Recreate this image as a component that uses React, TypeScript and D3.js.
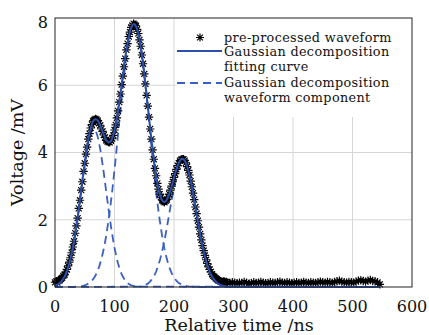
import React, { useRef, useEffect } from 'react'
import * as d3 from 'd3'

// axis ticks
const xTicks = [0, 100, 200, 300, 400, 500, 600]
const yTicks = [0, 2, 4, 6, 8]

const legendLabels = [
  ['pre-processed waveform'],
  ['Gaussian decomposition', 'fitting curve'],
  ['Gaussian decomposition', 'waveform component'],
]

// pre-processed waveform, sampled every 2 ns from 0 to 290 ns
const sampleStep = 2
const waveformPulse = [
  0.14, 0.17, 0.13, 0.19, 0.20, 0.24, 0.27, 0.33, 0.36, 0.45,
  0.52, 0.63, 0.74, 0.87, 1.02, 1.19, 1.36, 1.60, 1.82, 2.05,
  2.34, 2.58, 2.88, 3.13, 3.44, 3.68, 3.95, 4.16, 4.40, 4.56,
  4.73, 4.83, 4.94, 4.97, 5.00, 4.98, 4.95, 4.87, 4.81, 4.70,
  4.63, 4.52, 4.45, 4.36, 4.33, 4.31, 4.30, 4.35, 4.41, 4.51,
  4.67, 4.82, 5.03, 5.24, 5.50, 5.74, 6.02, 6.27, 6.55, 6.79,
  7.05, 7.24, 7.45, 7.58, 7.72, 7.78, 7.83, 7.80, 7.77, 7.66,
  7.54, 7.35, 7.16, 6.90, 6.64, 6.34, 6.04, 5.70, 5.38, 5.05,
  4.70, 4.40, 4.08, 3.80, 3.53, 3.31, 3.08, 2.91, 2.76, 2.67,
  2.58, 2.55, 2.52, 2.56, 2.60, 2.68, 2.76, 2.88, 3.00, 3.13,
  3.26, 3.37, 3.50, 3.61, 3.68, 3.76, 3.79, 3.80, 3.80, 3.76,
  3.69, 3.58, 3.47, 3.33, 3.15, 2.98, 2.79, 2.60, 2.38, 2.18,
  1.97, 1.78, 1.58, 1.40, 1.23, 1.08, 0.94, 0.81, 0.70, 0.60,
  0.52, 0.45, 0.38, 0.33, 0.30, 0.26, 0.23, 0.20, 0.19, 0.17,
  0.16, 0.15, 0.17, 0.14, 0.15, 0.13,
]

// flat tail of the waveform, every 4 ns from 294 ns
const tailStart = 294
const tailStep = 4
const waveformTail = [
  0.12, 0.14, 0.13, 0.11, 0.13, 0.12, 0.15, 0.13, 0.10, 0.12,
  0.14, 0.12, 0.13, 0.15, 0.13, 0.11, 0.12, 0.14, 0.13, 0.12,
  0.14, 0.16, 0.13, 0.12, 0.14, 0.13, 0.11, 0.13, 0.14, 0.12,
  0.13, 0.15, 0.13, 0.12, 0.14, 0.13, 0.12, 0.14, 0.16, 0.14,
  0.13, 0.15, 0.14, 0.12, 0.15, 0.17, 0.19, 0.16, 0.14, 0.13,
  0.15, 0.14, 0.13, 0.16, 0.19, 0.20, 0.18, 0.16, 0.19, 0.21,
  0.18, 0.17, 0.14, 0.08,
]

// Gaussian components, every 2 ns from their start time (zero elsewhere)
const component1Start = 0
const component1 = [
  0.04, 0.05, 0.07, 0.09, 0.12, 0.15, 0.20, 0.25, 0.31, 0.38,
  0.47, 0.58, 0.70, 0.84, 1.00, 1.17, 1.37, 1.58, 1.81, 2.06,
  2.31, 2.58, 2.85, 3.12, 3.39, 3.64, 3.88, 4.10, 4.29, 4.45,
  4.57, 4.65, 4.70, 4.70, 4.65, 4.57, 4.45, 4.29, 4.10, 3.88,
  3.64, 3.39, 3.12, 2.85, 2.58, 2.31, 2.06, 1.81, 1.58, 1.37,
  1.17, 1.00, 0.84, 0.70, 0.58, 0.47, 0.38, 0.31, 0.25, 0.20,
  0.15, 0.12, 0.09, 0.07, 0.05, 0.04, 0.03, 0.02, 0.01, 0.01,
  0.01,
]
const component2Start = 30
const component2 = [
  0.00, 0.00, 0.01, 0.01, 0.01, 0.01, 0.02, 0.02, 0.03, 0.04,
  0.05, 0.06, 0.08, 0.10, 0.12, 0.15, 0.19, 0.23, 0.28, 0.34,
  0.41, 0.50, 0.59, 0.71, 0.83, 0.98, 1.14, 1.32, 1.52, 1.75,
  1.99, 2.25, 2.53, 2.83, 3.15, 3.49, 3.83, 4.19, 4.55, 4.91,
  5.27, 5.63, 5.97, 6.30, 6.60, 6.88, 7.13, 7.35, 7.52, 7.66,
  7.75, 7.79, 7.79, 7.75, 7.66, 7.52, 7.35, 7.13, 6.88, 6.60,
  6.30, 5.97, 5.63, 5.27, 4.91, 4.55, 4.19, 3.83, 3.49, 3.15,
  2.83, 2.53, 2.25, 1.99, 1.75, 1.52, 1.32, 1.14, 0.98, 0.83,
  0.71, 0.59, 0.50, 0.41, 0.34, 0.28, 0.23, 0.19, 0.15, 0.12,
  0.10, 0.08, 0.06, 0.05, 0.04, 0.03, 0.02, 0.02, 0.01, 0.01,
  0.01, 0.01, 0.00, 0.00,
]
const component3Start = 140
const component3 = [
  0.01, 0.01, 0.02, 0.03, 0.04, 0.05, 0.06, 0.08, 0.10, 0.13,
  0.17, 0.21, 0.26, 0.31, 0.38, 0.46, 0.56, 0.66, 0.78, 0.91,
  1.06, 1.22, 1.39, 1.57, 1.77, 1.97, 2.17, 2.38, 2.58, 2.78,
  2.97, 3.15, 3.31, 3.45, 3.57, 3.65, 3.72, 3.75, 3.75, 3.72,
  3.65, 3.57, 3.45, 3.31, 3.15, 2.97, 2.78, 2.58, 2.38, 2.17,
  1.97, 1.77, 1.57, 1.39, 1.22, 1.06, 0.91, 0.78, 0.66, 0.56,
  0.46, 0.38, 0.31, 0.26, 0.21, 0.17, 0.13, 0.10, 0.08, 0.06,
  0.05, 0.04, 0.03, 0.02, 0.01, 0.01,
]
const timeEnd = 545

const components = [
  { start: component1Start, values: component1 },
  { start: component2Start, values: component2 },
  { start: component3Start, values: component3 },
]

export default function App() {
  const svgRef = useRef(null)

  useEffect(() => {
    const width = 429
    const height = 335
    const margin = { top: 18, right: 17, bottom: 48, left: 55 }
    const font = '"DejaVu Serif", serif'

    const svg = d3.select(svgRef.current)
    svg.selectAll('*').remove()
    svg.attr('width', width).attr('height', height).attr('viewBox', `0 0 ${width} ${height}`)

    const x = d3.scaleLinear().domain([0, 600]).range([margin.left, width - margin.right])
    const y = d3.scaleLinear().domain([0, 8]).range([height - margin.bottom, margin.top])

    svg.append('rect').attr('width', width).attr('height', height).attr('fill', '#fff')

    // grid
    const grid = svg.append('g').attr('stroke', '#d6d6d6').attr('stroke-width', 1)
    xTicks.slice(1, -1).forEach(t => {
      grid.append('line').attr('x1', x(t)).attr('x2', x(t)).attr('y1', y(0)).attr('y2', y(8))
    })
    yTicks.slice(1, -1).forEach(t => {
      grid.append('line').attr('x1', x(0)).attr('x2', x(600)).attr('y1', y(t)).attr('y2', y(t))
    })

    // legend background hides the grid behind it
    const legendBox = { x0: 176, y0: y(8), x1: x(600), y1: 117 }
    svg.append('rect')
      .attr('x', legendBox.x0).attr('y', legendBox.y0)
      .attr('width', legendBox.x1 - legendBox.x0).attr('height', legendBox.y1 - legendBox.y0)
      .attr('fill', '#fff')

    const compAt = (c, t) => {
      const i = Math.round((t - c.start) / sampleStep)
      return i >= 0 && i < c.values.length ? c.values[i] : 0
    }

    const line = d3.line().x(d => x(d[0])).y(d => y(d[1]))

    // dashed Gaussian components
    components.forEach(c => {
      const pts = c.values.map((v, i) => [c.start + i * sampleStep, v])
      if (c.start > 0) pts.unshift([0, 0])
      pts.push([timeEnd, 0])
      svg.append('path')
        .attr('d', line(pts))
        .attr('fill', 'none')
        .attr('stroke', '#3a60c2')
        .attr('stroke-width', 1.8)
        .attr('stroke-dasharray', '8,5')
    })

    // waveform asterisks
    const wave = [
      ...waveformPulse.map((v, i) => [i * sampleStep, v]),
      ...waveformTail.map((v, i) => [tailStart + i * tailStep, v]),
    ]
    const star = (cx, cy, r = 4.2, d = 3) =>
      `M${cx - r},${cy}h${2 * r}M${cx},${cy - r}v${2 * r}` +
      `M${cx - d},${cy - d}l${2 * d},${2 * d}M${cx - d},${cy + d}l${2 * d},${-2 * d}`
    svg.append('path')
      .attr('d', wave.map(p => star(x(p[0]), y(p[1]))).join(''))
      .attr('fill', 'none')
      .attr('stroke', '#000')
      .attr('stroke-width', 1.15)

    // fitting curve = sum of the components
    const fit = d3.range(0, 291, sampleStep).map(t => [t, d3.sum(components, c => compAt(c, t))])
    fit.push([timeEnd, 0])
    svg.append('path')
      .attr('d', line(fit))
      .attr('fill', 'none')
      .attr('stroke', '#2c4fae')
      .attr('stroke-width', 2)

    // axes box
    svg.append('rect')
      .attr('x', x(0)).attr('y', y(8))
      .attr('width', x(600) - x(0)).attr('height', y(0) - y(8))
      .attr('fill', 'none').attr('stroke', '#222').attr('stroke-width', 1)

    // tick labels
    const tickFont = 16
    svg.append('g').selectAll('text').data(xTicks).join('text')
      .attr('x', d => x(d)).attr('y', y(0) + 25)
      .attr('text-anchor', 'middle')
      .attr('font-family', font).attr('font-size', tickFont).attr('fill', '#111')
      .text(d => d)
    svg.append('g').selectAll('text').data(yTicks).join('text')
      .attr('x', x(0) - 7).attr('y', d => Math.max(y(d), 22.5) + 5.8)
      .attr('text-anchor', 'end')
      .attr('font-family', font).attr('font-size', tickFont).attr('fill', '#111')
      .text(d => d)

    // axis titles
    svg.append('text')
      .attr('x', 239).attr('y', 331)
      .attr('text-anchor', 'middle')
      .attr('font-family', font).attr('font-size', 17.5).attr('fill', '#111')
      .text('Relative time /ns')
    svg.append('text')
      .attr('transform', `translate(23,${(y(0) + y(8)) / 2}) rotate(-90)`)
      .attr('text-anchor', 'middle')
      .attr('font-family', font).attr('font-size', 17.5).attr('fill', '#111')
      .text('Voltage /mV')

    // legend
    const lg = svg.append('g')
      .attr('font-family', font).attr('font-size', 12.8).attr('letter-spacing', 0.35).attr('fill', '#111')
    const symX0 = 177
    const symX1 = 222
    const textX = 224
    const entryY = [37.5, 51, 83]
    const baselines = [[41.5], [56, 71], [87, 102]]
    lg.append('path')
      .attr('d', star((symX0 + symX1) / 2 + 0.5, entryY[0], 4, 2.9))
      .attr('stroke', '#000').attr('stroke-width', 1.2).attr('fill', 'none')
    lg.append('line')
      .attr('x1', symX0).attr('x2', symX1).attr('y1', entryY[1]).attr('y2', entryY[1])
      .attr('stroke', '#2c4fae').attr('stroke-width', 2)
    lg.append('line')
      .attr('x1', symX0).attr('x2', symX1).attr('y1', entryY[2]).attr('y2', entryY[2])
      .attr('stroke', '#3a60c2').attr('stroke-width', 1.8).attr('stroke-dasharray', '8,5')
    legendLabels.forEach((rows, i) => {
      rows.forEach((txt, j) => {
        lg.append('text').attr('x', textX).attr('y', baselines[i][j]).text(txt)
      })
    })
  }, [])

  return (
    <svg ref={svgRef} style={{ position: 'absolute', left: 0, top: 0, display: 'block' }} />
  )
}
